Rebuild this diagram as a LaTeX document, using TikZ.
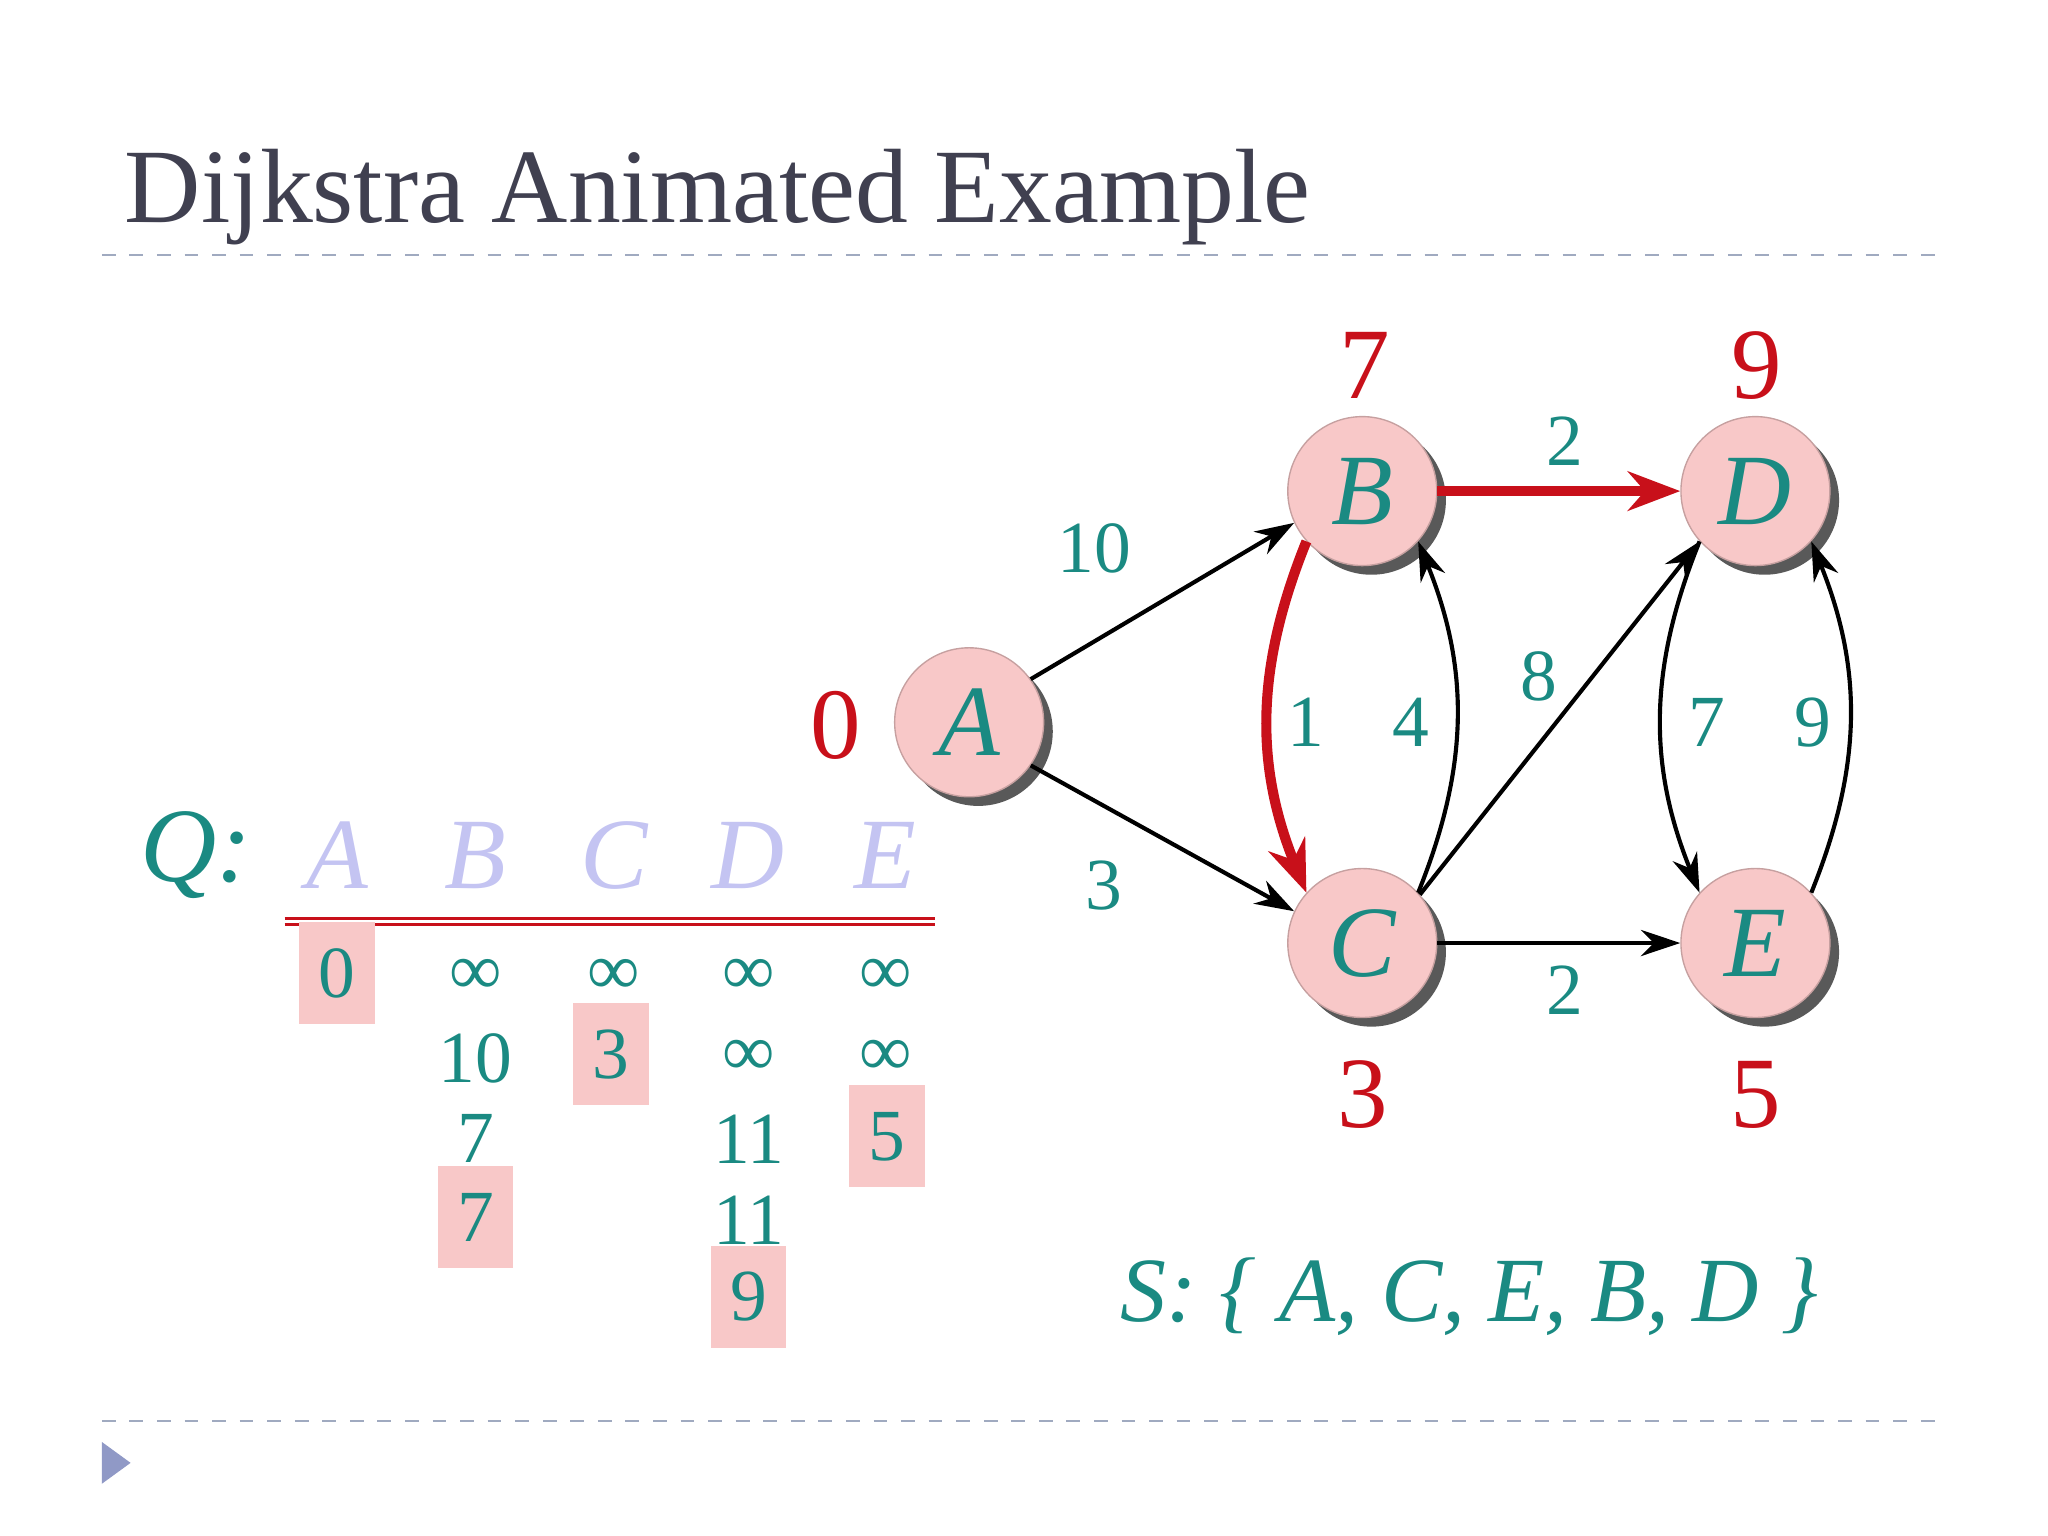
\documentclass[tikz,border=0pt]{standalone}
\usepackage{fontspec}
\setmainfont{Liberation Serif}
\usetikzlibrary{arrows.meta,shadows}
\definecolor{teal1}{HTML}{1A8A82}
\definecolor{red1}{HTML}{C8101A}
\definecolor{pink1}{HTML}{F8C8C8}
\definecolor{lav}{HTML}{C4C4F2}
\definecolor{titlec}{HTML}{404050}
\definecolor{dashc}{HTML}{A0AAC0}
\tikzset{
 vert/.style={circle,minimum size=1.14cm,inner sep=0pt,fill=pink1,draw=pink1!80!black,line width=0.3pt,
   drop shadow={shadow xshift=0.07cm,shadow yshift=-0.07cm,fill=black!65,opacity=1},
   font=\fontsize{22}{24}\selectfont\itshape,text=teal1},
 dist/.style={text=red1,font=\fontsize{22}{24}\selectfont},
 wt/.style={text=teal1,font=\fontsize{16}{18}\selectfont},
 edge/.style={-{Stealth[length=3mm,width=2mm]},line width=0.9pt},
 redge/.style={-{Stealth[length=4mm,width=3mm]},line width=2.2pt,red1},
 cell/.style={text=teal1,font=\fontsize{16}{18}\selectfont,inner sep=0pt},
 hl/.style={fill=pink1,minimum width=0.58cm,minimum height=0.78cm},
 hdr/.style={text=lav,font=\fontsize{22}{24}\selectfont\itshape},
 dashl/.style={dashc,dashed,line width=0.5pt}
}
\begin{document}
\begin{tikzpicture}[x={(0.01cm,0)},y={(0,-0.01cm)}]
\useasboundingbox (0,0) rectangle (1568,1176);
\node[anchor=base west,text=titlec,font=\fontsize{23}{28}\selectfont,inner sep=0pt] (title) at (95,170) {Dijkstra Animated Example};
\draw[dashl] (78,195) -- (1490,195);
\draw[dashl] (78,1088) -- (1490,1088);
\fill[dashc!90!blue] (78,1104) -- (100,1120) -- (78,1136) -- cycle;
% graph
\node[vert] (A) at (742,553) {A};
\node[vert] (B) at (1043,376) {B};
\node[vert] (C) at (1043,722) {C};
\node[vert] (D) at (1344,376) {D};
\node[vert] (E) at (1344,722) {E};
\node[dist] (dA) at (640,555) {0};
\node[dist] (dB) at (1045,280) {7};
\node[dist] (dD) at (1345,280) {9};
\node[dist] (dC) at (1043,838) {3};
\node[dist] (dE) at (1344,838) {5};
\draw[edge] (A.35) -- (B.205);
\draw[edge] (A.-35) -- (C.155);
\draw[redge] (B.east) -- (D.west);
\draw[edge] (C.east) -- (E.west);
\draw[edge] (C.40) -- (D.222);
\draw[redge] (B.222) to[bend right=22] (C.138);
\draw[edge] (C.42) to[bend right=22] (B.318);
\draw[edge] (D.222) to[bend right=22] (E.138);
\draw[edge] (E.42) to[bend right=22] (D.318);
\node[wt] (w10) at (838,420) {10};
\node[wt] (w3) at (845,678) {3};
\node[wt] (w2a) at (1198,338) {2};
\node[wt] (w2b) at (1198,758) {2};
\node[wt] (w8) at (1178,518) {8};
\node[wt] (w1) at (1000,553) {1};
\node[wt] (w4) at (1080,553) {4};
\node[wt] (w7) at (1307,553) {7};
\node[wt] (w9) at (1388,553) {9};
% table
\node[text=teal1,font=\fontsize{23}{26}\selectfont\itshape] (Q) at (150,655) {Q:};
\foreach \l/\x in {A/258,B/364,C/470,D/573,E/678}{\node[hdr] (h\l) at (\x,655) {\l};}
\draw[red1,line width=0.6pt] (218,703) -- (716,703);
\draw[red1,line width=0.6pt] (218,708) -- (716,708);
\node[cell,hl] (a1) at (258,745) {0};
\node[cell] (b1) at (364,748) {∞};
\node[cell] (c1) at (470,748) {∞};
\node[cell] (d1) at (573,748) {∞};
\node[cell] (e1) at (678,748) {∞};
\node[cell] (b2) at (364,810) {10};
\node[cell,hl] (c2) at (468,807) {3};
\node[cell] (d2) at (573,810) {∞};
\node[cell] (e2) at (678,810) {∞};
\node[cell] (b3) at (364,872) {7};
\node[cell] (d3) at (573,872) {11};
\node[cell,hl] (e3) at (679,870) {5};
\node[cell,hl] (b4) at (364,932) {7};
\node[cell] (d4) at (573,934) {11};
\node[cell,hl] (d5) at (573,993) {9};
\node[text=teal1,font=\fontsize{20}{24}\selectfont\itshape] (S) at (1125,993) {S: \{ A, C, E, B, D \}};
\end{tikzpicture}
\end{document}
